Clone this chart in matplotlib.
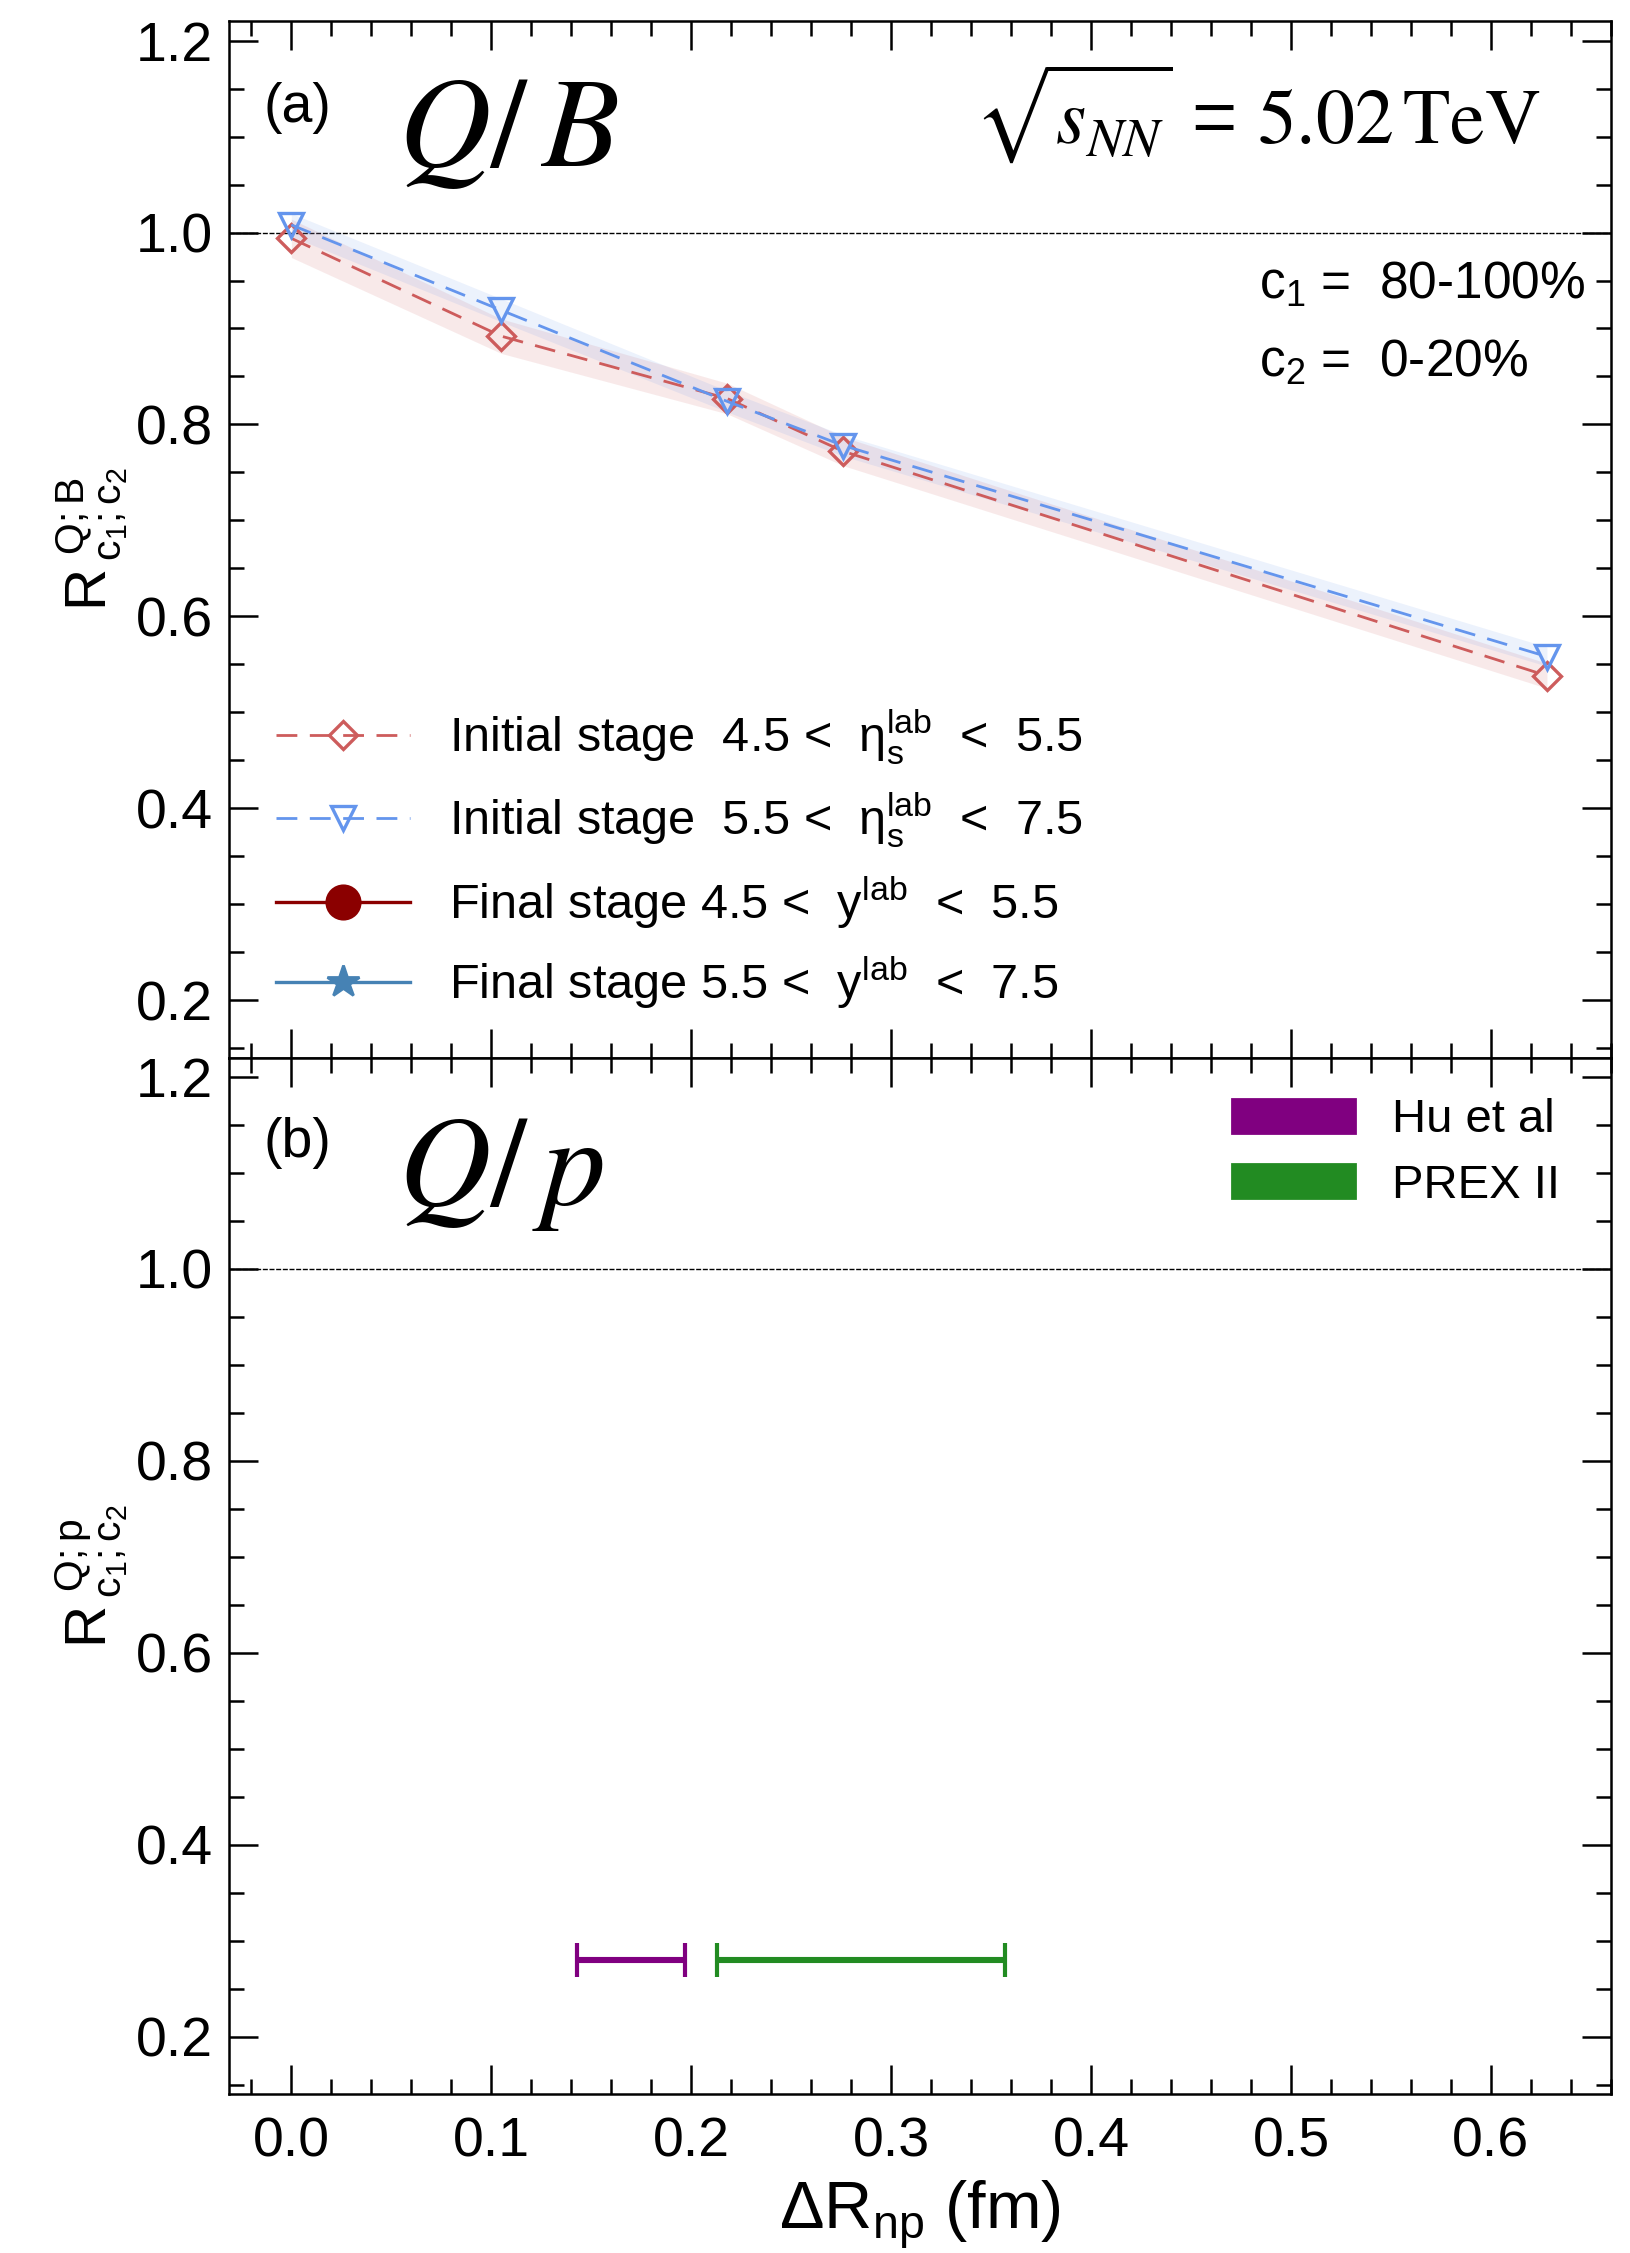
import matplotlib
matplotlib.use("Agg")
import matplotlib.pyplot as plt
from matplotlib.ticker import MultipleLocator, FixedLocator, FixedFormatter
from matplotlib.patches import Patch
import numpy as np

plt.rcParams['font.family'] = ['Liberation Sans', 'DejaVu Sans']
plt.rcParams['mathtext.fontset'] = 'custom'
plt.rcParams['mathtext.rm'] = 'Liberation Sans'
plt.rcParams['mathtext.it'] = 'Liberation Sans:italic'
plt.rcParams['mathtext.bf'] = 'Liberation Sans:bold'
plt.rcParams['mathtext.default'] = 'regular'

# ---- data -------------------------------------------------------------
dR_np = [0.0, 0.105, 0.218, 0.276, 0.628]          # neutron-skin thickness (fm)

# initial stage, 4.5 < eta_s^lab < 5.5
init_lo_R = [0.994, 0.892, 0.827, 0.772, 0.538]
init_lo_err = [0.020, 0.018, 0.016, 0.015, 0.013]
# initial stage, 5.5 < eta_s^lab < 7.5
init_hi_R = [1.008, 0.919, 0.824, 0.778, 0.558]
init_hi_err = [0.012, 0.012, 0.011, 0.011, 0.010]

# final stage (no points in this figure)
final_x = []
final_lo_R = []
final_hi_R = []

# measured neutron-skin constraints for 208Pb
hu_center, hu_err = 0.170, 0.027
prex_center, prex_err = 0.285, 0.072
constraint_y = 0.28

xtick_vals = [0.0, 0.1, 0.2, 0.3, 0.4, 0.5, 0.6]
xtick_labels = ['0.0', '0.1', '0.2', '0.3', '0.4', '0.5', '0.6']
ytick_vals = [0.2, 0.4, 0.6, 0.8, 1.0, 1.2]
ytick_labels = ['0.2', '0.4', '0.6', '0.8', '1.0', '1.2']

legend_labels = [
    'Initial stage  4.5 <  η$_{s}^{lab}$  <  5.5',
    'Initial stage  5.5 <  η$_{s}^{lab}$  <  7.5',
    'Final stage 4.5 <  y$^{lab}$  <  5.5',
    'Final stage 5.5 <  y$^{lab}$  <  7.5',
]

# ---- colours ----------------------------------------------------------
c_red = '#cd5c5c'
c_blue = '#6495ed'
c_dred = '#8b0000'
c_steel = '#4682b4'
c_purple = '#800080'
c_green = '#228b22'

# ---- figure -----------------------------------------------------------
fig = plt.figure(figsize=(8.15, 11.265), dpi=200)
left, width = 0.1407, 0.8476
ax1 = fig.add_axes([left, 0.53058, width, 0.45988])
ax2 = fig.add_axes([left, 0.07044, width, 0.46014])

for ax in (ax1, ax2):
    ax.set_xlim(-0.031, 0.66)
    ax.set_ylim(0.14, 1.22)
    ax.xaxis.set_major_locator(FixedLocator(xtick_vals))
    ax.xaxis.set_major_formatter(FixedFormatter(xtick_labels))
    ax.yaxis.set_major_locator(FixedLocator(ytick_vals))
    ax.yaxis.set_major_formatter(FixedFormatter(ytick_labels))
    ax.xaxis.set_minor_locator(MultipleLocator(0.02))
    ax.yaxis.set_minor_locator(MultipleLocator(0.05))
    ax.tick_params(which='both', direction='in', top=True, right=True,
                   width=0.9, color='black')
    ax.tick_params(which='major', length=10.4)
    ax.tick_params(which='minor', length=5.4)
    ax.tick_params(axis='y', labelsize=20, pad=6)
    ax.tick_params(axis='x', labelsize=20, pad=8)
    for s in ax.spines.values():
        s.set_linewidth(0.9)
    ax.axhline(1.0, color='black', lw=0.5, ls=(0, (3.6, 1.2)), zorder=1)

ax1.tick_params(labelbottom=False)

# ---- panel (a): Q/B ratio ---------------------------------------------
lo_R, lo_e = np.array(init_lo_R), np.array(init_lo_err)
hi_R, hi_e = np.array(init_hi_R), np.array(init_hi_err)
ax1.fill_between(dR_np, lo_R - lo_e, lo_R + lo_e, color=c_red, alpha=0.13,
                 lw=0, zorder=2)
ax1.fill_between(dR_np, hi_R - hi_e, hi_R + hi_e, color=c_blue, alpha=0.12,
                 lw=0, zorder=2)
h1, = ax1.plot(dR_np, init_lo_R, color=c_red, lw=1.0, ls=(0, (7.5, 4.5)),
               marker='D', ms=7, mfc='none', mec=c_red, mew=1.2, zorder=3)
h2, = ax1.plot(dR_np, init_hi_R, color=c_blue, lw=1.0, ls=(0, (7.5, 4.5)),
               marker='v', ms=8.5, mfc='none', mec=c_blue, mew=1.2, zorder=3)
h3, = ax1.plot(final_x, final_lo_R, color=c_dred, lw=1.2, ls='-',
               marker='o', ms=12)
h4, = ax1.plot(final_x, final_hi_R, color=c_steel, lw=1.2, ls='-',
               marker='*', ms=12)

ax1.legend([h1, h2, h3, h4], legend_labels, loc='upper left',
           bbox_to_anchor=(0.034, 0.3383), frameon=False, fontsize=17.5,
           handlelength=2.75, handletextpad=0.81, labelspacing=0.49,
           borderpad=0, borderaxespad=0)

ax1.text(0.0494, 0.9168, '(a)', transform=ax1.transAxes, fontsize=20,
         ha='center', va='center')
ax1.text(0.122, 0.861, r'$\mathit{Q/\,B}$', transform=ax1.transAxes,
         fontsize=46, math_fontfamily='stix', ha='left', va='baseline')
ax1.text(0.949, 0.8815, r'$\sqrt{\mathit{s}_{\mathit{NN}}}\,=\,\mathrm{5.02\,TeV}$',
         transform=ax1.transAxes, fontsize=28, math_fontfamily='stix',
         ha='right', va='baseline')
ax1.text(0.7452, 0.7324, 'c$_1$ =  80-100%', transform=ax1.transAxes,
         fontsize=18.5, ha='left', va='baseline')
ax1.text(0.7452, 0.6575, 'c$_2$ =  0-20%', transform=ax1.transAxes,
         fontsize=18.5, ha='left', va='baseline')
ax1.set_ylabel(r'$R\,{}_{c_1;c_2}^{\,Q;B}$', fontsize=21)
ax1.yaxis.set_label_coords(-0.072, 0.5)

# ---- panel (b): Q/p ratio and measured skins ---------------------------
ax2.errorbar([hu_center], [constraint_y], xerr=[hu_err], fmt='none',
             ecolor=c_purple, elinewidth=2.2, capsize=6, capthick=1.5)
ax2.errorbar([prex_center], [constraint_y], xerr=[prex_err], fmt='none',
             ecolor=c_green, elinewidth=2.2, capsize=6, capthick=1.5)
ax2.legend([Patch(color=c_purple), Patch(color=c_green)],
           ['Hu et al', 'PREX II'], loc='upper left',
           bbox_to_anchor=(0.7259, 0.9607), frameon=False, fontsize=17,
           handlelength=2.6, handleheight=0.75, handletextpad=0.78,
           labelspacing=0.45, borderpad=0, borderaxespad=0)

ax2.text(0.0494, 0.9178, '(b)', transform=ax2.transAxes, fontsize=20,
         ha='center', va='center')
ax2.text(0.122, 0.858, r'$\mathit{Q/\,p}$', transform=ax2.transAxes,
         fontsize=46, math_fontfamily='stix', ha='left', va='baseline')
ax2.set_ylabel(r'$R\,{}_{c_1;c_2}^{\,Q;p}$', fontsize=21)
ax2.yaxis.set_label_coords(-0.072, 0.5)
ax2.set_xlabel(r'ΔR$_{np}$ (fm)', fontsize=24, va='baseline')
ax2.xaxis.set_label_coords(0.5, -0.129)

fig.savefig('out.png', dpi=200)
